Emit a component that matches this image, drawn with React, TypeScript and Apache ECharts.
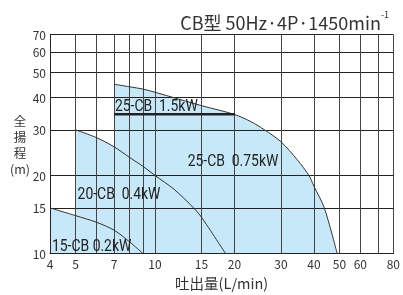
import React, { useEffect, useRef } from 'react';
import * as echarts from 'echarts';

// Axis ticks / grid values
const xGridValues = [4, 5, 6, 7, 8, 9, 10, 15, 20, 30, 40, 50, 60, 70, 80];
const xTickLabels = [4, 5, 7, 10, 15, 20, 30, 40, 50, 60, 80];
const yGridValues = [10, 15, 20, 30, 40, 50, 60, 70];
const yTickLabels = [10, 15, 20, 30, 40, 50, 60, 70];

// Performance curves (flow L/min, head m)
const cb15Flow = [4, 5, 6, 7, 8, 9];
const cb15Head = [15, 14, 13.2, 12.3, 11.1, 10];
const cb20Flow = [5, 6, 7, 8, 9, 10, 11.8, 14, 15, 18.5];
const cb20Head = [30, 28, 25.8, 23.5, 21.7, 20, 17.7, 15, 13.8, 10];
const cb25sFlow = [7, 8, 9, 10, 15, 20, 23.2, 26, 30, 34.6, 38.3, 40, 43.8, 49];
const cb25sHead = [45, 44, 43.1, 41.9, 37.2, 34.4, 32.2, 30, 27, 23, 20, 18.2, 15, 10];
const cb25lFlow = [7, 20];
const cb25lHead = [34.5, 34.5];

// Region labels (anchor at left-middle of text)
const labelTexts = ['25-CB  1.5kW', '25-CB  0.75kW', '20-CB  0.4kW', '15-CB 0.2kW'];
const labelFlow = [7.05, 13.3, 5.09, 4.07];
const labelHead = [37.1, 22.9, 17.0, 10.7];

const FILL = '#c6e8f8';
const CURVE = '#333333';
const LABEL_FONT = 'Roboto, "DejaVu Sans", sans-serif';
const AXIS_FONT = '"Noto Sans CJK JP", "Noto Sans", sans-serif';

const zip = (xs: number[], ys: number[]) => xs.map((x, i) => [x, ys[i]]);

export default function App() {
  const ref = useRef<HTMLDivElement>(null);
  useEffect(() => {
    if (!ref.current) return;
    const chart = echarts.init(ref.current, null, { renderer: 'svg' });

    const areaSeries = (data: number[][]) => ({
      type: 'line',
      data,
      smooth: 0.3,
      symbol: 'none',
      z: 1,
      silent: true,
      lineStyle: { width: 0, opacity: 0 },
      areaStyle: { color: FILL, opacity: 1, origin: 'start' },
    });
    const curveSeries = (data: number[][]) => ({
      type: 'line',
      data,
      smooth: 0.3,
      symbol: 'none',
      z: 3,
      silent: true,
      lineStyle: { width: 1, color: CURVE },
    });

    const option: any = {
      animation: false,
      title: {
        right: 9,
        top: 5,
        text: '{a|CB型 50Hz·4P·1450min}{b|-1}',
        textStyle: {
          fontWeight: 'normal',
          rich: {
            a: { fontSize: 18, fontWeight: 'normal', fontFamily: AXIS_FONT, color: '#333', lineHeight: 24 },
            b: { fontSize: 9, fontWeight: 'normal', fontFamily: AXIS_FONT, color: '#333', verticalAlign: 'top', lineHeight: 12 },
          },
        },
      },
      grid: { left: 50, right: 6, top: 34.5, bottom: 38.5, containLabel: false },
      xAxis: {
        type: 'log',
        logBase: 10,
        min: 4,
        max: 80,
        z: 2,
        name: '吐出量(L/min)',
        nameLocation: 'middle',
        nameGap: 22,
        nameTextStyle: { fontSize: 14.5, fontFamily: AXIS_FONT, color: '#333', verticalAlign: 'top' },
        axisLine: { show: true, lineStyle: { color: '#222', width: 1 } },
        axisTick: { show: false, customValues: xGridValues },
        axisLabel: {
          customValues: xTickLabels,
          fontSize: 12,
          fontFamily: AXIS_FONT,
          color: '#333',
          margin: 4,
        },
        splitLine: { show: true, lineStyle: { color: '#444', width: 1 } },
      },
      yAxis: {
        type: 'log',
        logBase: 10,
        min: 10,
        max: 70,
        z: 2,
        name: '全\n揚\n程\n(m)',
        nameLocation: 'middle',
        nameRotate: 0,
        nameGap: 30,
        nameMoveOverlap: false,
        nameTextStyle: { fontSize: 12.5, fontFamily: AXIS_FONT, color: '#333', lineHeight: 16, align: 'center' },
        axisLine: { show: true, lineStyle: { color: '#222', width: 1 } },
        axisTick: { show: false, customValues: yGridValues },
        axisLabel: {
          customValues: yTickLabels,
          fontSize: 12,
          fontFamily: AXIS_FONT,
          color: '#333',
          margin: 4,
        },
        splitLine: { show: true, lineStyle: { color: '#222', width: 1 } },
      },
      series: [
        areaSeries(zip(cb15Flow, cb15Head)),
        areaSeries(zip(cb20Flow, cb20Head)),
        areaSeries(zip(cb25sFlow, cb25sHead)),
        curveSeries(zip(cb15Flow, cb15Head)),
        curveSeries(zip(cb20Flow, cb20Head)),
        curveSeries(zip(cb25sFlow, cb25sHead)),
        {
          type: 'line',
          data: zip(cb25lFlow, cb25lHead),
          symbol: 'none',
          z: 4,
          silent: true,
          lineStyle: { width: 2.5, color: '#222' },
        },
        {
          type: 'custom',
          z: 5,
          silent: true,
          encode: { x: 0, y: 1 },
          data: labelTexts.map((_, i) => [labelFlow[i], labelHead[i], i]),
          renderItem: (_params: any, api: any) => {
            const pt = api.coord([api.value(0), api.value(1)]);
            const i = api.value(2);
            return {
              type: 'text',
              x: pt[0],
              y: pt[1],
              scaleX: 0.87,
              style: {
                text: labelTexts[i],
                fontSize: 16,
                fontFamily: LABEL_FONT,
                fill: '#222',
                align: 'left',
                verticalAlign: 'middle',
              },
            };
          },
        },
      ],
    };
    chart.setOption(option);
    return () => chart.dispose();
  }, []);
  return (
    <div
      ref={ref}
      style={{ position: 'fixed', left: 0, top: 0, width: 403, height: 295 }}
    />
  );
}
